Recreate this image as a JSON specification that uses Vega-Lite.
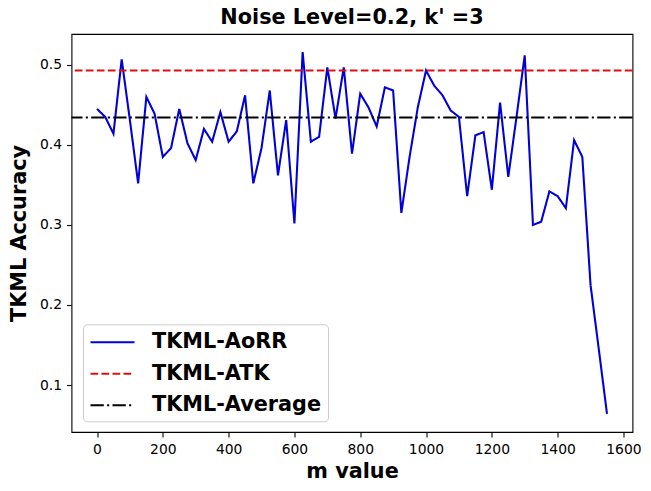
{
  "$schema": "https://vega.github.io/schema/vega-lite/v6.json",
  "width": 561,
  "height": 398,
  "autosize": {"type": "none"},
  "padding": {"left": 71.5, "top": 34, "right": 18.3, "bottom": 59},
  "background": "white",
  "title": {
    "text": "Noise Level=0.2, k' =3",
    "font": "DejaVu Sans",
    "fontSize": 20.8,
    "fontWeight": "bold",
    "color": "black",
    "anchor": "middle",
    "frame": "group",
    "offset": 5
  },
  "config": {
    "view": {"stroke": "black", "strokeWidth": 1.1},
    "axis": {
      "grid": false,
      "domain": false,
      "tickColor": "black",
      "tickWidth": 1.1,
      "tickSize": 4.9,
      "labelFont": "DejaVu Sans",
      "labelFontSize": 13.9,
      "labelColor": "black",
      "titleFont": "DejaVu Sans",
      "titleFontSize": 20.8,
      "titleFontWeight": "bold",
      "titleColor": "black"
    }
  },
  "datasets": {
    "acc": [
      {"series": "TKML-AoRR", "m": 0, "acc": 0.445},
      {"series": "TKML-AoRR", "m": 25, "acc": 0.435},
      {"series": "TKML-AoRR", "m": 50, "acc": 0.414},
      {"series": "TKML-AoRR", "m": 75, "acc": 0.507},
      {"series": "TKML-AoRR", "m": 100, "acc": 0.431},
      {"series": "TKML-AoRR", "m": 125, "acc": 0.352},
      {"series": "TKML-AoRR", "m": 150, "acc": 0.46},
      {"series": "TKML-AoRR", "m": 175, "acc": 0.439},
      {"series": "TKML-AoRR", "m": 200, "acc": 0.385},
      {"series": "TKML-AoRR", "m": 225, "acc": 0.396},
      {"series": "TKML-AoRR", "m": 250, "acc": 0.445},
      {"series": "TKML-AoRR", "m": 275, "acc": 0.402},
      {"series": "TKML-AoRR", "m": 300, "acc": 0.381},
      {"series": "TKML-AoRR", "m": 325, "acc": 0.42},
      {"series": "TKML-AoRR", "m": 350, "acc": 0.404},
      {"series": "TKML-AoRR", "m": 375, "acc": 0.441},
      {"series": "TKML-AoRR", "m": 400, "acc": 0.404},
      {"series": "TKML-AoRR", "m": 425, "acc": 0.417},
      {"series": "TKML-AoRR", "m": 450, "acc": 0.462},
      {"series": "TKML-AoRR", "m": 475, "acc": 0.352},
      {"series": "TKML-AoRR", "m": 500, "acc": 0.396},
      {"series": "TKML-AoRR", "m": 525, "acc": 0.468},
      {"series": "TKML-AoRR", "m": 550, "acc": 0.362},
      {"series": "TKML-AoRR", "m": 575, "acc": 0.431},
      {"series": "TKML-AoRR", "m": 600, "acc": 0.302},
      {"series": "TKML-AoRR", "m": 625, "acc": 0.516},
      {"series": "TKML-AoRR", "m": 650, "acc": 0.404},
      {"series": "TKML-AoRR", "m": 675, "acc": 0.41},
      {"series": "TKML-AoRR", "m": 700, "acc": 0.497},
      {"series": "TKML-AoRR", "m": 725, "acc": 0.433},
      {"series": "TKML-AoRR", "m": 750, "acc": 0.497},
      {"series": "TKML-AoRR", "m": 775, "acc": 0.389},
      {"series": "TKML-AoRR", "m": 800, "acc": 0.464},
      {"series": "TKML-AoRR", "m": 825, "acc": 0.447},
      {"series": "TKML-AoRR", "m": 850, "acc": 0.423},
      {"series": "TKML-AoRR", "m": 875, "acc": 0.472},
      {"series": "TKML-AoRR", "m": 900, "acc": 0.468},
      {"series": "TKML-AoRR", "m": 925, "acc": 0.315},
      {"series": "TKML-AoRR", "m": 950, "acc": 0.385},
      {"series": "TKML-AoRR", "m": 975, "acc": 0.447},
      {"series": "TKML-AoRR", "m": 1000, "acc": 0.493},
      {"series": "TKML-AoRR", "m": 1025, "acc": 0.474},
      {"series": "TKML-AoRR", "m": 1050, "acc": 0.462},
      {"series": "TKML-AoRR", "m": 1075, "acc": 0.443},
      {"series": "TKML-AoRR", "m": 1100, "acc": 0.435},
      {"series": "TKML-AoRR", "m": 1125, "acc": 0.336},
      {"series": "TKML-AoRR", "m": 1150, "acc": 0.412},
      {"series": "TKML-AoRR", "m": 1175, "acc": 0.416},
      {"series": "TKML-AoRR", "m": 1200, "acc": 0.344},
      {"series": "TKML-AoRR", "m": 1225, "acc": 0.453},
      {"series": "TKML-AoRR", "m": 1250, "acc": 0.36},
      {"series": "TKML-AoRR", "m": 1275, "acc": 0.435},
      {"series": "TKML-AoRR", "m": 1300, "acc": 0.512},
      {"series": "TKML-AoRR", "m": 1325, "acc": 0.3},
      {"series": "TKML-AoRR", "m": 1350, "acc": 0.304},
      {"series": "TKML-AoRR", "m": 1375, "acc": 0.342},
      {"series": "TKML-AoRR", "m": 1400, "acc": 0.336},
      {"series": "TKML-AoRR", "m": 1425, "acc": 0.321},
      {"series": "TKML-AoRR", "m": 1450, "acc": 0.406},
      {"series": "TKML-AoRR", "m": 1475, "acc": 0.385},
      {"series": "TKML-AoRR", "m": 1500, "acc": 0.225},
      {"series": "TKML-AoRR", "m": 1525, "acc": 0.145},
      {"series": "TKML-AoRR", "m": 1550, "acc": 0.064}
    ],
    "levels": [
      {"series": "TKML-ATK", "acc": 0.4929},
      {"series": "TKML-Average", "acc": 0.4343}
    ]
  },
  "layer": [
    {
      "data": {"name": "acc"},
      "mark": {"type": "line", "strokeWidth": 2.08},
      "encoding": {
        "x": {
          "field": "m",
          "type": "quantitative",
          "title": "m value",
          "scale": {"domain": [-77.5, 1627.5], "nice": false, "zero": false},
          "axis": {"values": [0, 200, 400, 600, 800, 1000, 1200, 1400, 1600], "format": "d", "labelPadding": 6, "titlePadding": 5}
        },
        "y": {
          "field": "acc",
          "type": "quantitative",
          "title": "TKML Accuracy",
          "scale": {"domain": [0.0413, 0.5386], "nice": false, "zero": false},
          "axis": {"values": [0.1, 0.2, 0.3, 0.4, 0.5], "format": ".1f", "labelPadding": 5, "titlePadding": 10}
        },
        "color": {"field": "series", "type": "nominal"},
        "strokeDash": {"field": "series", "type": "nominal"}
      }
    },
    {
      "data": {"name": "levels"},
      "mark": {"type": "rule", "strokeWidth": 2.08},
      "encoding": {
        "y": {"field": "acc", "type": "quantitative"},
        "color": {"field": "series", "type": "nominal"},
        "strokeDash": {"field": "series", "type": "nominal"}
      }
    }
  ],
  "resolve": {"scale": {"color": "shared", "strokeDash": "shared"}},
  "encoding": {
    "color": {
      "field": "series",
      "type": "nominal",
      "scale": {
        "domain": ["TKML-AoRR", "TKML-ATK", "TKML-Average"],
        "range": ["#0000d8", "#dd1111", "black"]
      },
      "legend": {
        "title": null,
        "orient": "none",
        "legendX": 11.5,
        "legendY": 290.3,
        "symbolType": "M-1,0H3.19",
        "symbolSize": 441,
        "symbolStrokeWidth": 2.08,
        "labelFont": "DejaVu Sans",
        "labelFontSize": 20.8,
        "labelFontWeight": "bold",
        "labelColor": "black",
        "labelLimit": 0,
        "labelOffset": 39,
        "padding": 6,
        "rowPadding": 9.5,
        "fillColor": "white",
        "strokeColor": "#cccccc",
        "cornerRadius": 4
      }
    },
    "strokeDash": {
      "field": "series",
      "type": "nominal",
      "scale": {
        "domain": ["TKML-AoRR", "TKML-ATK", "TKML-Average"],
        "range": [[1, 0], [7.7, 3.3], [13.3, 3.3, 2.1, 3.3]]
      }
    }
  }
}
